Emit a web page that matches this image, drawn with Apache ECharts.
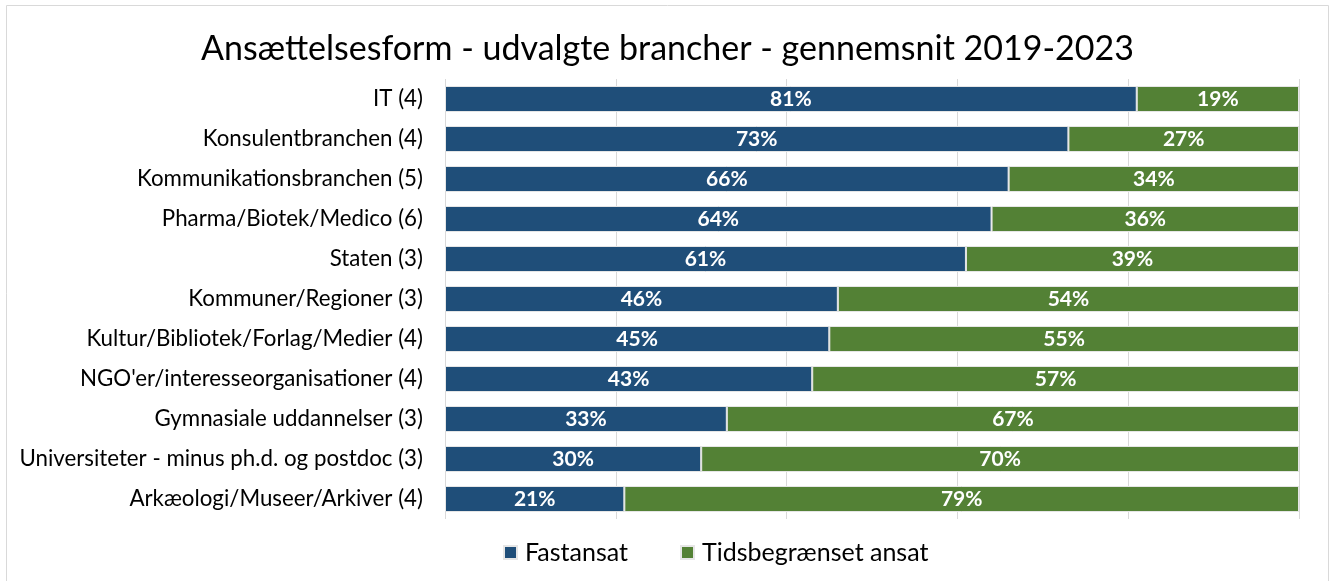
<!DOCTYPE html>
<html>
<head>
<meta charset="utf-8">
<script src="https://cdn.jsdelivr.net/npm/echarts@6/dist/echarts.min.js"></script>
<style>
  html, body { margin: 0; padding: 0; background: #fff; }
  #chart { width: 1335px; height: 581px; }
</style>
</head>
<body>
<div id="chart"></div>
<script>
"use strict";
// categories, top to bottom
const categories = [
    "IT (4)",
    "Konsulentbranchen (4)",
    "Kommunikationsbranchen (5)",
    "Pharma/Biotek/Medico (6)",
    "Staten (3)",
    "Kommuner/Regioner (3)",
    "Kultur/Bibliotek/Forlag/Medier (4)",
    "NGO'er/interesseorganisationer (4)",
    "Gymnasiale uddannelser (3)",
    "Universiteter - minus ph.d. og postdoc (3)",
    "Arkæologi/Museer/Arkiver (4)"
];
const fastansat = [81, 73, 66, 64, 61, 46, 45, 43, 33, 30, 21];
const tidsbegraenset = [19, 27, 34, 36, 39, 54, 55, 57, 67, 70, 79];

const font = "Lato, 'Open Sans', sans-serif";

let myChart = echarts.init(document.getElementById('chart'));
let option = {
    color: ['#1f4e79', '#538135'],
    textStyle: {fontFamily: font},
    title: {
        text: 'Ansættelsesform - udvalgte brancher - gennemsnit 2019-2023',
        left: 'center',
        top: 27,
        textStyle: {fontFamily: font, fontSize: 34, fontWeight: 'normal', color: '#000'}
    },
    graphic: [{
        type: 'rect',
        shape: {x: 6.5, y: 5.5, width: 1322, height: 590},
        style: {fill: 'none', stroke: '#d9d9d9', lineWidth: 1},
        silent: true
    }],
    legend: {
        bottom: 11,
        left: 498,
        itemWidth: 13,
        itemHeight: 13,
        itemGap: 52,
        icon: 'rect',
        textStyle: {fontFamily: font, fontSize: 25, color: '#000', padding: [0, 0, 0, 3]},
        data: ['Fastansat', 'Tidsbegrænset ansat']
    },
    grid: {left: 445, right: 36, top: 79, bottom: 62, containLabel: false},
    xAxis: {
        type: 'value',
        min: 0,
        max: 100,
        interval: 20,
        axisLabel: {show: false},
        axisLine: {show: false},
        axisTick: {show: false},
        splitLine: {lineStyle: {color: '#d9d9d9', width: 1}}
    },
    yAxis: {
        type: 'category',
        inverse: true,
        data: categories,
        axisLine: {show: false},
        axisTick: {show: false},
        axisLabel: {fontFamily: font, fontSize: 22.3, color: '#000', margin: 22}
    },
    series: [
        {
            name: 'Fastansat',
            type: 'bar',
            stack: 'total',
            barWidth: '65%',
            data: fastansat,
            itemStyle: {borderColor: '#e6e6e6', borderWidth: 1},
            label: {
                show: true,
                position: 'inside',
                formatter: '{c}%',
                color: '#fff',
                fontWeight: 'bold',
                fontSize: 21,
                fontFamily: font
            }
        },
        {
            name: 'Tidsbegrænset ansat',
            type: 'bar',
            stack: 'total',
            data: tidsbegraenset,
            itemStyle: {borderColor: '#e6e6e6', borderWidth: 1},
            label: {
                show: true,
                position: 'inside',
                formatter: '{c}%',
                color: '#fff',
                fontWeight: 'bold',
                fontSize: 21,
                fontFamily: font
            }
        }
    ]
};
myChart.setOption(option);
</script>
</body>
</html>
